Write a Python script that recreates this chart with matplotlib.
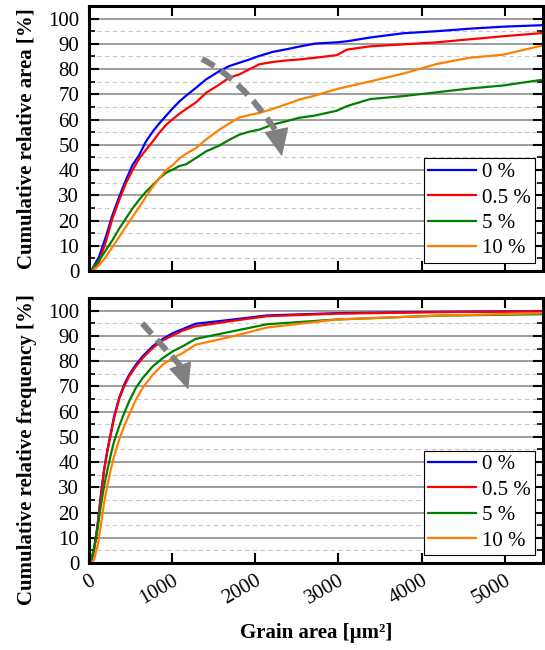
import numpy as np
import matplotlib
matplotlib.use('Agg')
import matplotlib.pyplot as plt
from matplotlib.ticker import MultipleLocator
from matplotlib.path import Path
from matplotlib.patches import PathPatch

plt.rcParams['font.family'] = ['Liberation Serif', 'DejaVu Serif']
plt.rcParams['font.size'] = 15

labels = ['0 %', '0.5 %', '5 %', '10 %']
colors = ['#0000FF', '#FF0000', '#008000', '#FF8000']

# cumulative relative area vs grain area
x_area = [0, 20, 40, 121, 202, 282, 363, 443, 524, 605, 685, 766, 846, 927,
          1008, 1088, 1169, 1288, 1408, 1568, 1688, 1808, 1928, 2048, 2208,
          2368, 2528, 2720, 2980, 3100, 3380, 3780, 4180, 4580, 4980, 5460]
area_0 = [0, 0, 0.9, 5.6, 13.5, 22.1, 29.4, 36, 42, 46, 51.3, 55.2, 58.5, 61.5,
          64.5, 67.2, 69.5, 72.6, 75.9, 79.2, 81.2, 82.5, 83.8, 85.2, 86.8,
          87.8, 88.9, 90.1, 90.6, 91.0, 92.5, 94.2, 95, 96, 96.8, 97.4]
area_05 = [0, 0, 0.5, 3.6, 11.5, 20.8, 28.1, 34.7, 40, 44.6, 48, 51.3, 54.8,
           57.9, 60.2, 62.3, 64.2, 66.8, 70.6, 73.9, 76.6, 77.9, 79.9, 81.9,
           82.8, 83.4, 83.8, 84.5, 85.5, 87.7, 89, 89.8, 90.6, 91.8, 93, 94.3]
area_5 = [0, 0, 0.9, 4.2, 8.2, 12.2, 16.8, 20.8, 24.8, 28.3, 31.4, 34, 36.7,
          38.9, 40.2, 41.6, 42.3, 44.8, 47.4, 49.7, 52, 54, 55.2, 56, 58,
          59.3, 60.7, 61.6, 63.5, 65.3, 68.1, 69.3, 70.8, 72.3, 73.5, 75.8]
area_10 = [0, 0, 0, 2.3, 5.6, 9.5, 13.5, 17.5, 21.5, 25.4, 29.4, 33.4, 36.7,
           40, 42, 44.6, 46.5, 48.7, 52.1, 56, 58.5, 60.8, 61.8, 62.6, 64.2,
           66, 67.9, 69.5, 72.1, 73.0, 75.1, 78.2, 82, 84.5, 85.7, 89.4]

# cumulative relative frequency vs grain area
x_freq = [0, 20, 60, 101, 141, 181, 222, 262, 302, 363, 423, 483, 564, 645,
          766, 887, 1008, 1128, 1282, 1738, 2139, 2979, 4180, 5460]
freq_0 = [0, 0, 5.3, 14.5, 26.4, 37, 44.9, 51.5, 58.1, 65.4, 70.7, 74.6, 78.6,
          81.9, 85.9, 88.8, 91.1, 92.7, 94.8, 96.5, 98.1, 99, 99.5, 99.8]
freq_05 = [0, 0, 5, 14, 26, 36.5, 44.5, 51, 57.5, 65, 70, 74, 77.9, 81.2,
           85.2, 88.2, 90.2, 92.1, 93.8, 96.0, 97.8, 98.8, 99.4, 99.7]
freq_5 = [0, 0, 5.9, 13.2, 22.5, 30.4, 37, 42.9, 48.2, 54.2, 59.4, 64.1, 69.4,
          73.3, 77.9, 81.2, 83.9, 85.9, 88.8, 91.9, 94.6, 96.5, 98, 98.6]
freq_10 = [0, 0, 1.3, 6.6, 14.5, 23.8, 31, 37, 42.3, 48.9, 54.2, 58.8, 64.7,
           69.4, 74.6, 78.6, 81.2, 83.2, 86.5, 89.9, 93.3, 96.5, 98, 99]

area_series = [area_0, area_05, area_5, area_10]
freq_series = [freq_0, freq_05, freq_5, freq_10]

fig = plt.figure(figsize=(5.45, 6.5), dpi=100)
ax1 = fig.add_axes([0.1633, 0.5831, 0.833, 0.4077])
ax2 = fig.add_axes([0.1633, 0.1338, 0.833, 0.4077])


def style_axes(ax):
    ax.set_xlim(0, 5460)
    ax.xaxis.set_major_locator(MultipleLocator(1000))
    ax.yaxis.set_minor_locator(MultipleLocator(5))
    ax.set_yticks(range(0, 101, 10))
    ax.set_ylim(0, 105)
    ax.set_axisbelow(True)
    ax.grid(which='major', axis='y', color='#8c8c8c', lw=1.2)
    ax.grid(which='minor', axis='y', color='#c8c8c8', lw=0.8, ls=(0, (4, 3)))
    ax.tick_params(axis='x', which='major', direction='in', top=True,
                   length=7, width=1.5, pad=6)
    ax.tick_params(axis='y', which='major', direction='in', left=True,
                   right=True, length=7, width=1.5, pad=7)
    ax.tick_params(axis='y', which='minor', direction='in', left=True,
                   right=True, length=4, width=1.2)
    for s in ax.spines.values():
        s.set_linewidth(2.2)


for ax, xs, series in [(ax1, x_area, area_series), (ax2, x_freq, freq_series)]:
    style_axes(ax)
    for ys, c, lab in zip(series, colors, labels):
        ax.plot(xs, ys, color=c, lw=1.6, label=lab)
    leg = ax.legend(loc='lower right', frameon=True, fancybox=False,
                    edgecolor='black', framealpha=1, handlelength=2.3,
                    labelspacing=0.28, borderaxespad=0.4, borderpad=0.2,
                    handletextpad=0.25, fontsize=15)
    leg.get_frame().set_linewidth(0.8)

ax1.tick_params(axis='x', labelbottom=False)

ax1.set_ylabel('Cumulative relative area [%]', fontweight='bold', fontsize=15)
ax2.set_ylabel('Cumulative relative frequency [%]', fontweight='bold', fontsize=15)
ax1.yaxis.set_label_coords(-0.115, 0.5)
ax2.yaxis.set_label_coords(-0.115, 0.43)

for lab in ax2.get_xticklabels():
    lab.set_rotation(30)
    lab.set_ha('right')
    lab.set_va('top')
    lab.set_rotation_mode('anchor')
ax2.set_xlabel('Grain area [µm²]', fontweight='bold', fontsize=15)
ax2.xaxis.set_label_coords(0.5, -0.225)


def trend_arrow(ax, start, ctrl, end, tip, head_scale):
    # dashed shaft as a quadratic curve, solid head on the last bit
    shaft = Path([start, ctrl, end], [Path.MOVETO, Path.CURVE3, Path.CURVE3])
    ax.add_patch(PathPatch(shaft, fill=False, edgecolor='#808080', lw=4.3,
                           ls=(0, (2.4, 1.3)), capstyle='butt', zorder=5))
    ax.annotate('', xy=tip, xytext=end,
                arrowprops=dict(arrowstyle='-|>,head_width=0.45,head_length=1.0',
                                color='#808080', lw=1, mutation_scale=head_scale,
                                shrinkA=0, shrinkB=0), zorder=5)


trend_arrow(ax1, (1359, 84.0), (1827, 76.3), (2260, 54.9), (2320, 45.4), 18)
trend_arrow(ax2, (639, 95.0), (870, 86.5), (1098, 78.2), (1194, 68.7), 17)

fig.savefig('out.png', dpi=100)
